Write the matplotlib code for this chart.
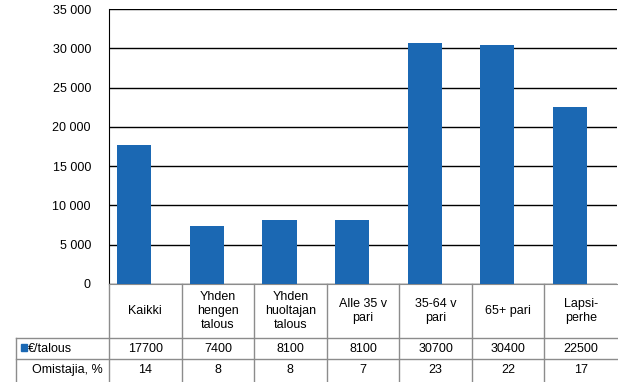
import numpy as np
import matplotlib.pyplot as plt
from matplotlib.lines import Line2D
from matplotlib.patches import Rectangle

plt.rcParams['font.family'] = ['Liberation Sans', 'DejaVu Sans']

# data
categories = ["Kaikki", "Yhden\nhengen\ntalous", "Yhden\nhuoltajan\ntalous",
              "Alle 35 v\npari", "35-64 v\npari", "65+ pari", "Lapsi-\nperhe"]
eur_per_household = [17700, 7400, 8100, 8100, 30700, 30400, 22500]
owners_pct = [14, 8, 8, 7, 23, 22, 17]
y_ticks = [0, 5000, 10000, 15000, 20000, 25000, 30000, 35000]

W, H = 618, 382
blue = '#1b68b3'
gray = '#8c8c8c'
fs = 9

fig = plt.figure(figsize=(W / 100, H / 100), dpi=100)

def fx(px):
    return px / W

def fy(py):
    return 1 - py / H

left, right, top, bottom = 109, 617, 9, 284
ax = fig.add_axes([fx(left), fy(bottom), fx(right) - fx(left), fy(top) - fy(bottom)])

x = np.arange(len(categories))
# bars sit a little left of the column centres, as in the original
ax.bar(x - 0.15, eur_per_household, width=0.47, color=blue, zorder=3)
ax.set_xlim(-0.5, len(categories) - 0.5)
ax.set_ylim(0, 35000)
ax.set_yticks(y_ticks)
ax.set_yticklabels([f"{v:,}".replace(",", " ") for v in y_ticks], fontsize=fs)
ax.yaxis.grid(True, color='black', linewidth=1, zorder=0)
ax.set_axisbelow(True)
ax.tick_params(axis='y', length=0, pad=13)
ax.set_xticks([])
for s in ['top', 'right']:
    ax.spines[s].set_visible(False)
ax.spines['left'].set_color('black')
ax.spines['bottom'].set_color(gray)

# table below the chart
col_w = (right - left) / len(categories)
row_y = [bottom, 338, 359, 382]
lab_left = 16

def hline(y, x0, x1):
    fig.add_artist(Line2D([fx(x0), fx(x1)], [fy(y), fy(y)], color=gray, lw=1))

def vline(xp, y0, y1):
    fig.add_artist(Line2D([fx(xp), fx(xp)], [fy(y0), fy(y1)], color=gray, lw=1))

for yy in row_y[1:3]:
    hline(yy, lab_left, W)
vline(lab_left, row_y[1], row_y[3])
for i in range(len(categories)):
    vline(left + i * col_w, bottom, row_y[3])

for i, cat in enumerate(categories):
    cx = left + (i + 0.5) * col_w
    fig.text(fx(cx), fy((row_y[0] + row_y[1]) / 2), cat, ha='center', va='center',
             fontsize=fs, linespacing=1.2)
    fig.text(fx(cx), fy((row_y[1] + row_y[2]) / 2), str(eur_per_household[i]),
             ha='center', va='center', fontsize=fs)
    fig.text(fx(cx), fy(370), str(owners_pct[i]),
             ha='center', va='center', fontsize=fs)

fig.add_artist(Rectangle((fx(21), fy(351)), fx(6), fy(0) - fy(7), color=blue,
                         transform=fig.transFigure))
fig.text(fx(28), fy((row_y[1] + row_y[2]) / 2), "€/talous", ha='left', va='center', fontsize=fs)
fig.text(fx(32), fy(370), "Omistajia, %", ha='left', va='center', fontsize=fs)

fig.savefig('out.png', dpi=100)
